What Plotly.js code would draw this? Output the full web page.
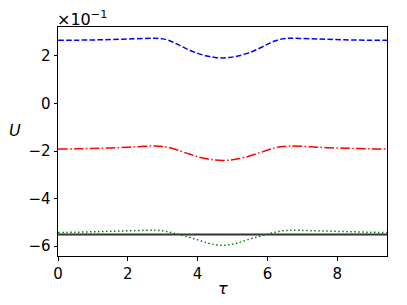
<!DOCTYPE html>
<html>
<head>
<meta charset="utf-8">
<script src="https://cdn.plot.ly/plotly-3.0.1.min.js"></script>
<style>html,body{margin:0;padding:0;background:#fff;}#chart{width:407px;height:305px;}</style>
</head>
<body>
<div id="chart"></div>
<script>
const tau = [0, 0.5, 1.0, 1.5, 2.0, 2.5, 2.8, 3.0, 3.2, 3.4, 3.7, 4.0, 4.3, 4.5, 4.712,
             4.924, 5.124, 5.424, 5.724, 6.024, 6.224, 6.424, 6.624, 6.924, 7.424, 7.924, 8.424, 8.924, 9.4248];
const blueU = [2.66, 2.665, 2.675, 2.69, 2.715, 2.74, 2.745, 2.72, 2.64, 2.51, 2.29, 2.11, 1.99, 1.94, 1.92,
               1.94, 1.99, 2.11, 2.29, 2.51, 2.64, 2.72, 2.745, 2.74, 2.715, 2.69, 2.675, 2.665, 2.66];
const redU = [-1.92, -1.91, -1.89, -1.87, -1.84, -1.80, -1.79, -1.81, -1.86, -1.95, -2.10, -2.24, -2.34, -2.38, -2.40,
              -2.38, -2.34, -2.24, -2.10, -1.95, -1.86, -1.81, -1.79, -1.80, -1.84, -1.87, -1.89, -1.91, -1.92];
const greenU = [-5.43, -5.42, -5.40, -5.38, -5.36, -5.34, -5.34, -5.36, -5.42, -5.49, -5.61, -5.74, -5.88, -5.94, -5.97,
                -5.94, -5.88, -5.74, -5.61, -5.49, -5.42, -5.36, -5.34, -5.34, -5.36, -5.38, -5.40, -5.42, -5.43];
const blackTau = [0, 9.4248];
const blackU = [-5.52, -5.52];
const xTicks = [0, 2, 4, 6, 8];
const yTicks = [-6, -4, -2, 0, 2];

const font = {family: 'DejaVu Sans, sans-serif', size: 15, color: '#000'};
const bigFont = {family: 'DejaVu Sans, sans-serif', size: 16, color: '#000'};
const traces = [
  {x: blackTau, y: blackU, mode: 'lines', line: {color: '#333333', width: 2}},
  {x: tau, y: blueU, mode: 'lines', line: {color: '#0000ff', width: 1.5, dash: '5.5px,2.4px', shape: 'spline'}},
  {x: tau, y: redU, mode: 'lines', line: {color: '#ff0000', width: 1.5, dash: '9.6px,2.4px,1.5px,2.4px', shape: 'spline'}},
  {x: tau, y: greenU, mode: 'lines', line: {color: '#008000', width: 1.5, dash: '1.5px,2.5px', shape: 'spline'}}
];
const layout = {
  width: 407, height: 305,
  margin: {l: 58, r: 20, t: 27, b: 49},
  paper_bgcolor: '#fff', plot_bgcolor: '#fff',
  showlegend: false,
  font: font,
  xaxis: {range: [0, 9.4248], tickvals: xTicks, ticks: 'outside', ticklen: 3.5, tickwidth: 1, tickcolor: '#000',
          showline: true, mirror: true, linecolor: '#000', linewidth: 1, showgrid: false, zeroline: false,
          tickfont: font},
  yaxis: {range: [-6.42, 3.22], tickvals: yTicks, ticks: 'outside', ticklen: 3.5, tickwidth: 1, tickcolor: '#000',
          showline: true, mirror: true, linecolor: '#000', linewidth: 1, showgrid: false, zeroline: false,
          tickfont: font},
  annotations: [
    {text: '×10<sup>−1</sup>', xref: 'paper', yref: 'paper', x: 0, y: 1, xanchor: 'left', yanchor: 'bottom',
     showarrow: false, font: bigFont, xshift: -3, yshift: -4},
    {text: '<i>U</i>', xref: 'paper', yref: 'paper', x: 0, y: 0.55, xanchor: 'center', yanchor: 'middle',
     showarrow: false, font: bigFont, xshift: -43},
    {text: '<i>τ</i>', xref: 'paper', yref: 'paper', x: 0.5, y: 0, xanchor: 'center', yanchor: 'top',
     showarrow: false, font: bigFont, yshift: -21}
  ]
};
Plotly.newPlot('chart', traces, layout, {staticPlot: true, displayModeBar: false});
</script>
</body>
</html>
